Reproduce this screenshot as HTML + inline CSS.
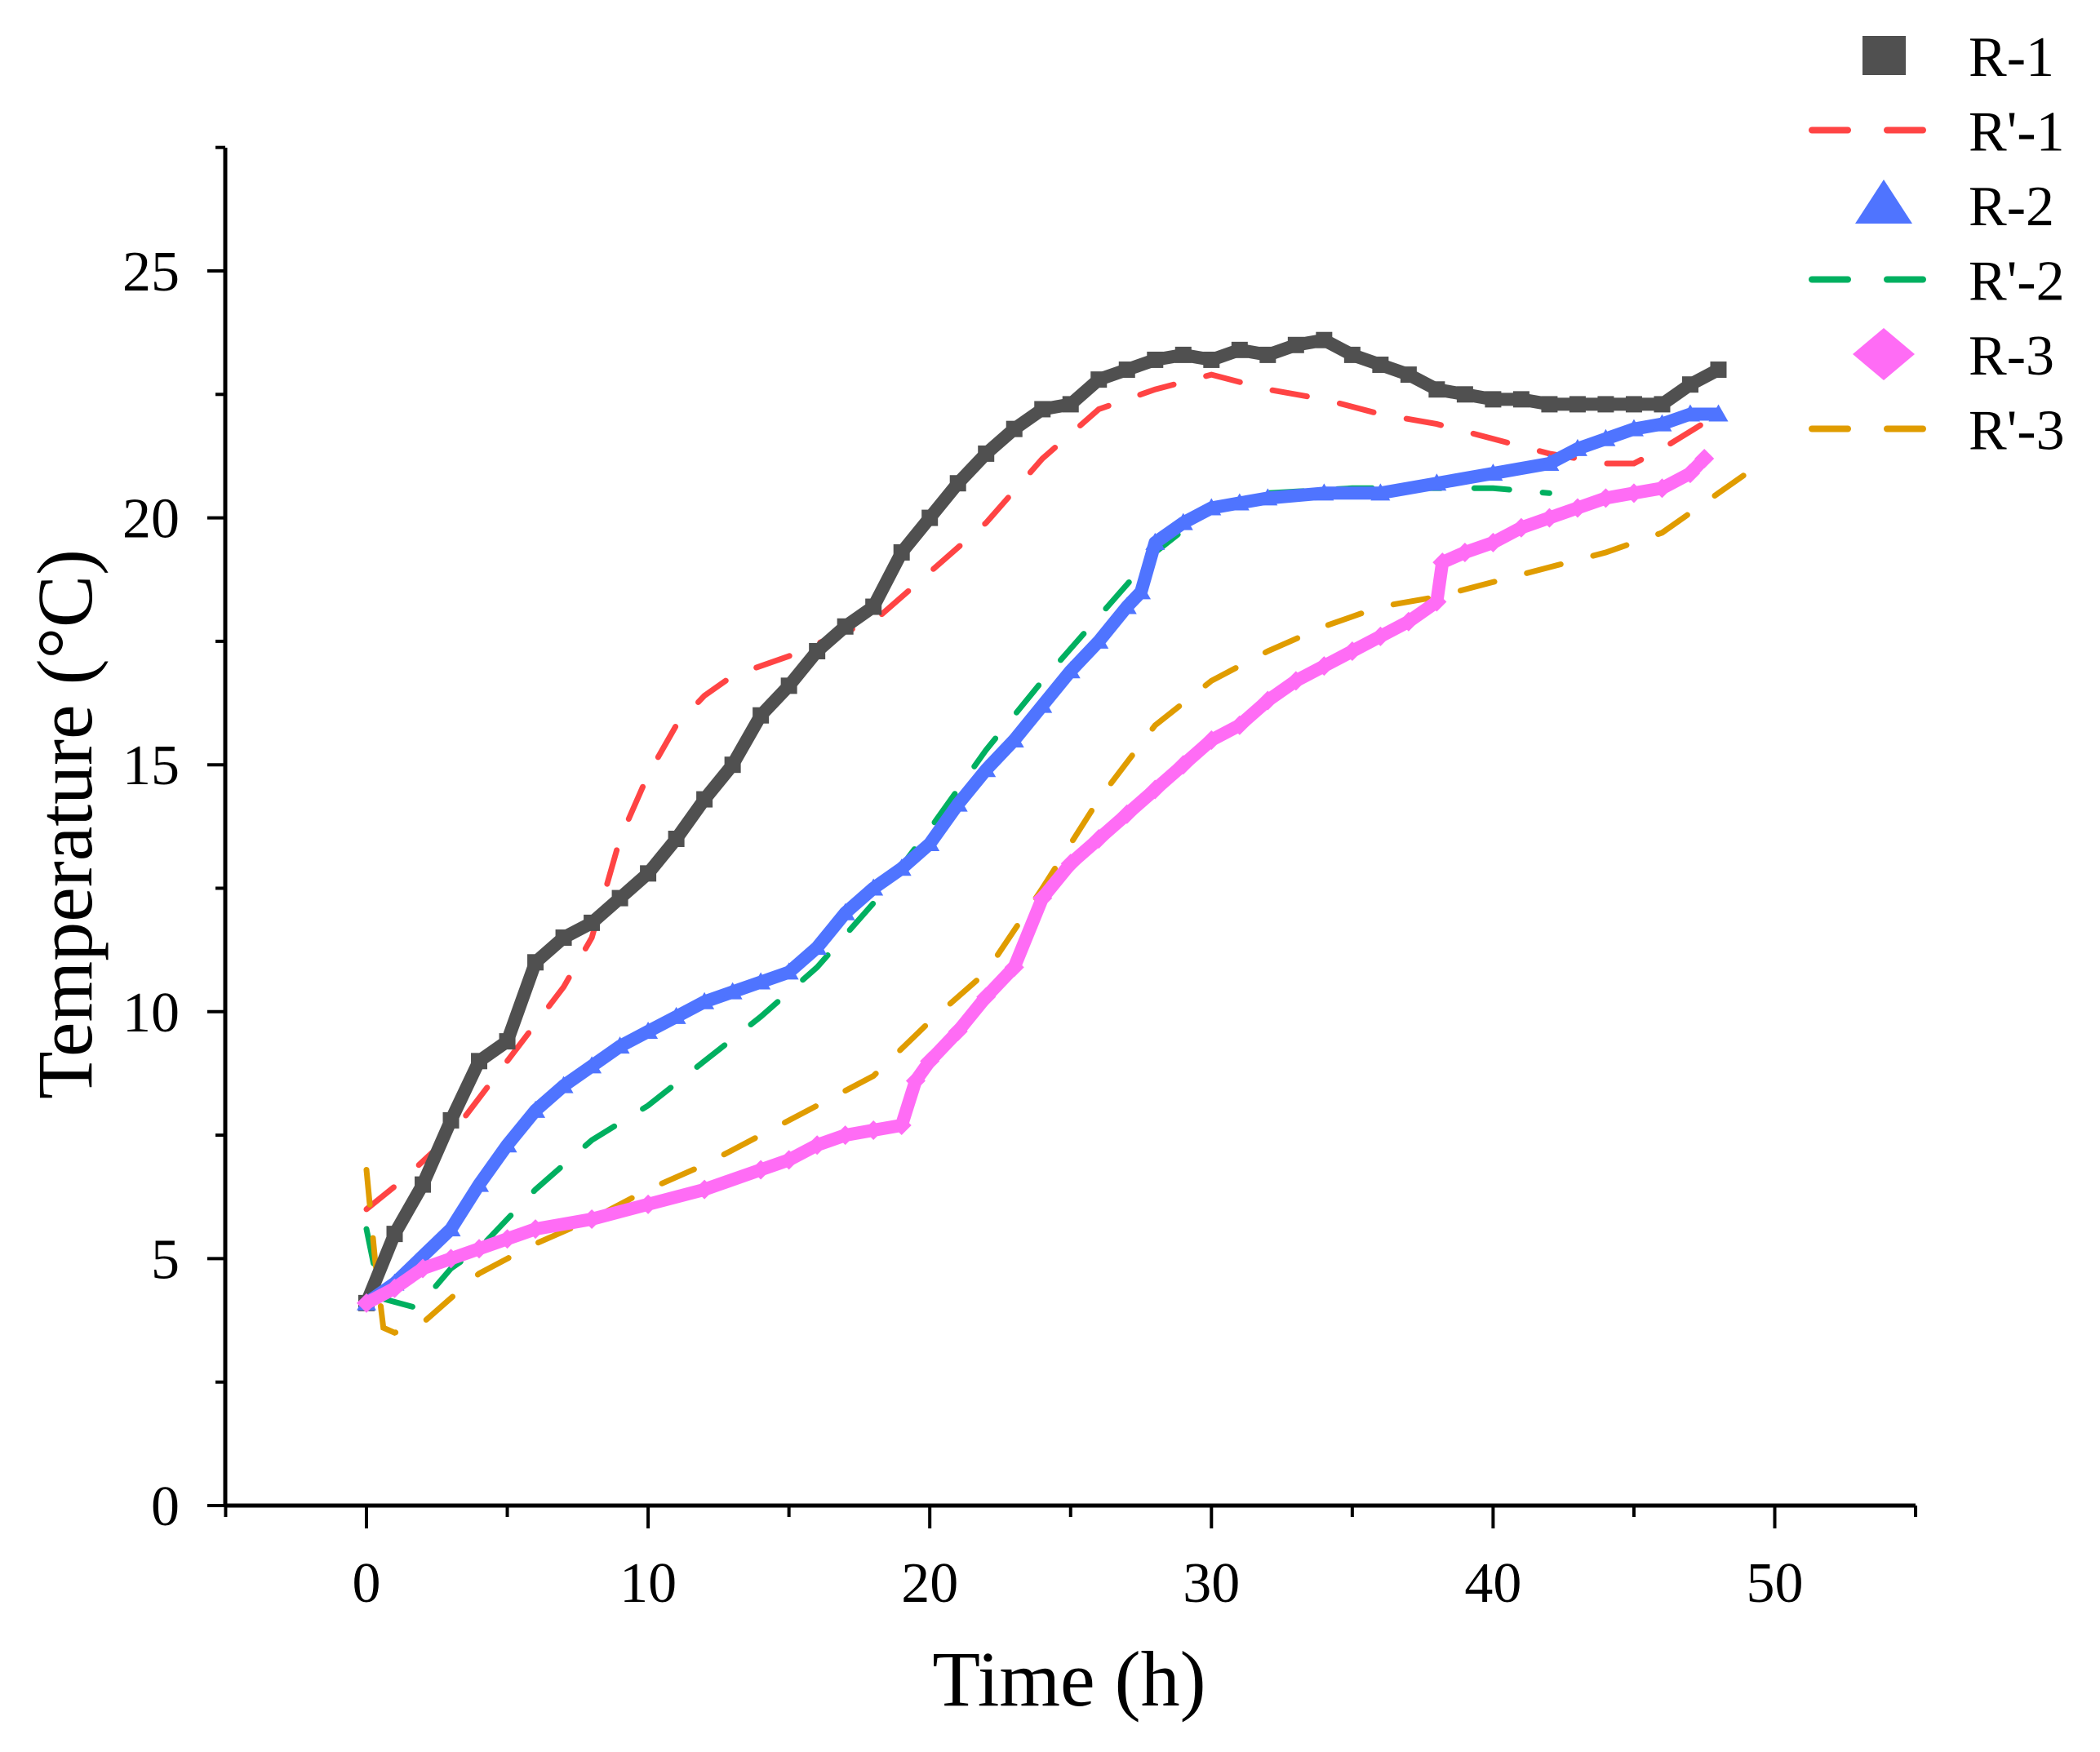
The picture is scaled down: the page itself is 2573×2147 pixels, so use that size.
<!DOCTYPE html>
<html><head><meta charset="utf-8"><style>
html,body{margin:0;padding:0;background:#fff}
svg{display:block}
text{font-family:"Liberation Serif",serif;fill:#000}
</style></head><body>
<svg id="chart" width="2573" height="2147" viewBox="0 0 2573 2147" xmlns="http://www.w3.org/2000/svg">
<g id="axes"></g>
<g id="series"></g>
<g id="legend"></g>
<text x="1310" y="2090" font-size="96" text-anchor="middle">Time (h)</text>
<text transform="translate(112,1010) rotate(-90)" font-size="96" text-anchor="middle">Temperature (°C)</text>
</svg>
<script>
const xTicks=[0,10,20,30,40,50];
const yTicks=[0,5,10,15,20,25];
const r1T=[0,1,2,3,4,5,6,7,8,9,10,11,12,13,14,15,16,17,18,19,20,21,22,23,24,25,26,27,28,29,30,31,32,33,34,35,36,37,38,39,40,41,42,43,44,45,46,47,48];
const r1V=[4.1,5.5,6.5,7.8,9.0,9.4,11.0,11.5,11.8,12.3,12.8,13.5,14.3,15.0,16.0,16.6,17.3,17.8,18.2,19.3,20.0,20.7,21.3,21.8,22.2,22.3,22.8,23.0,23.2,23.3,23.2,23.4,23.3,23.5,23.6,23.3,23.1,22.9,22.6,22.5,22.4,22.4,22.3,22.3,22.3,22.3,22.3,22.7,23.0];
const rp1T=[0,1.3,3,5,7,8,9,10,11,12,13,15,17,18,20,22,24,26,28,30,32,34,36,38,40,42,44,45,46,48];
const rp1V=[6.0,6.6,7.5,9.0,10.5,11.5,13.5,14.8,15.8,16.4,16.8,17.2,17.7,17.9,18.9,19.9,21.2,22.2,22.6,22.9,22.6,22.4,22.1,21.9,21.6,21.3,21.1,21.1,21.4,22.1];
const r2T=[0,1,3,4,5,6,7,8,9,10,11,12,13,14,15,16,17,18,19,20,21,22,23,24,25,26,27,27.5,28,29,30,31,32,34,36,38,40,42,43,44,45,46,47,48];
const r2V=[4.1,4.5,5.6,6.5,7.3,8.0,8.5,8.9,9.3,9.6,9.9,10.2,10.4,10.6,10.8,11.3,12.0,12.5,12.9,13.4,14.2,14.9,15.5,16.2,16.9,17.5,18.2,18.5,19.5,19.9,20.2,20.3,20.4,20.5,20.5,20.7,20.9,21.1,21.4,21.6,21.8,21.9,22.1,22.1];
const rp2T=[0,0.5,1.8,3,4,5,6,8,10,12,14,16,18,20,22,24,26,28,30,32,35,38,40,42];
const rp2V=[5.6,4.2,4.0,4.8,5.2,5.8,6.4,7.4,8.1,9.0,9.9,10.9,12.2,13.7,15.3,16.7,18.0,19.3,20.2,20.5,20.6,20.6,20.6,20.5];
const r3T=[0,1,2,3,4,5,6,8,10,12,14,15,16,17,18,19,19.5,20,21,22,23,24,25,26,27,28,29,30,31,32,33,34,35,36,37,38,38.2,39,40,41,42,43,44,45,46,47,47.5];
const r3V=[4.1,4.4,4.8,5.0,5.2,5.4,5.6,5.8,6.1,6.4,6.8,7.0,7.3,7.5,7.6,7.7,8.6,9.0,9.6,10.3,10.9,12.3,13.0,13.5,14.0,14.5,15.0,15.5,15.8,16.3,16.7,17.0,17.3,17.6,17.9,18.3,19.1,19.3,19.5,19.8,20.0,20.2,20.4,20.5,20.6,20.9,21.2];
const rp3T=[0,0.3,0.6,1,2,3,4,6,8,10,12,14,16,18,20,22,24,26,28,30,32,34,36,38,40,42,44,46,48,49];
const rp3V=[6.8,5.0,3.6,3.5,3.7,4.2,4.7,5.3,5.8,6.4,6.9,7.5,8.1,8.7,9.8,10.8,12.5,14.3,15.8,16.7,17.3,17.8,18.2,18.4,18.7,19.0,19.3,19.7,20.5,20.9];

const NS='http://www.w3.org/2000/svg';
const X=v=>449+v*34.51;
const Y=v=>1845-v*60.52;
function mk(tag,parent,attrs){const e=document.createElementNS(NS,tag);for(const k in attrs)e.setAttribute(k,attrs[k]);parent.appendChild(e);return e;}
const axes=document.getElementById('axes');
let e;
e=mk('line',axes,{x1:276,y1:1845,x2:2347,y2:1845,stroke:'#000','stroke-width':5});


e=mk('line',axes,{x1:276,y1:181,x2:276,y2:1847,stroke:'#000','stroke-width':5});


for(let v=-5;v<=55;v+=5){
  const major=v%10===0;
  e=mk('line',axes,{x1:X(v),y1:1845,x2:X(v),y2:1845+(major?28:14),stroke:'#000','stroke-width':4});
  
  
}
xTicks.forEach(v=>{
  e=mk('text',axes,{x:X(v),y:1963,'font-size':70,'text-anchor':'middle'});e.textContent=v;
  
  
});
for(let v=0;v<=27.5;v+=2.5){
  const major=v%5===0;
  e=mk('line',axes,{x1:276-(major?22:12),y1:Y(v),x2:276,y2:Y(v),stroke:'#000','stroke-width':4});
  
  
}
yTicks.forEach(v=>{
  e=mk('text',axes,{x:220,y:Y(v)+24,'font-size':70,'text-anchor':'end'});e.textContent=v;
  
  
});
const ser=document.getElementById('series');
function pts(T,V){return T.map((t,i)=>X(t).toFixed(1)+','+Y(V[i]).toFixed(1)).join(' ');}
function dashed(T,V,color,name){
  e=mk('polyline',ser,{points:pts(T,V),fill:'none',stroke:color,'stroke-width':7,'stroke-dasharray':'43 41','stroke-linecap':'round'});
  
  
}
function marker(g,shape,x,y,color,s){
  if(shape==='sq') return mk('rect',g,{x:x-s/2,y:y-s/2,width:s,height:s,fill:color});
  if(shape==='tri') return mk('polygon',g,{points:`${x},${y-s*0.6} ${x-s*0.6},${y+s*0.45} ${x+s*0.6},${y+s*0.45}`,fill:color});
  return mk('polygon',g,{points:`${x},${y-s*0.6} ${x+s*0.6},${y} ${x},${y+s*0.6} ${x-s*0.6},${y}`,fill:color});
}
function scatter(T,V,color,shape,name){
  const g=mk('g',ser,{});
  
  
  mk('polyline',g,{points:pts(T,V),fill:'none',stroke:color,'stroke-width':16,'stroke-linejoin':'round'});
  T.forEach((t,i)=>{const m=marker(g,shape,X(t),Y(V[i]),color,20);
    
    });
}
dashed(rp1T,rp1V,'#ff4444','series-r-prime-1');
dashed(rp2T,rp2V,'#00b060','series-r-prime-2');
dashed(rp3T,rp3V,'#e09c00','series-r-prime-3');
scatter(r1T,r1V,'#505050','sq','series-r-1');
scatter(r2T,r2V,'#4f74ff','tri','series-r-2');
scatter(r3T,r3V,'#ff6cf5','dia','series-r-3');

const leg=document.getElementById('legend');
const items=[['R-1','sq','#505050'],["R'-1",'dash','#ff4444'],['R-2','tri','#4f74ff'],["R'-2",'dash','#00b060'],['R-3','dia','#ff6cf5'],["R'-3",'dash','#e09c00']];
items.forEach((it,i)=>{
  const y=68+i*91.5;
  const g=mk('g',leg,{});
  
  
  if(it[1]==='dash'){
    mk('line',g,{x1:2220,y1:y,x2:2264,y2:y,stroke:it[2],'stroke-width':8,'stroke-linecap':'round'});
    mk('line',g,{x1:2312,y1:y,x2:2356,y2:y,stroke:it[2],'stroke-width':8,'stroke-linecap':'round'});
  } else if(it[1]==='sq'){
    mk('rect',g,{x:2282,y:y-24,width:53,height:48,fill:it[2]});
  } else if(it[1]==='tri'){
    mk('polygon',g,{points:`2308,${y-31} 2273,${y+23} 2343,${y+23}`,fill:it[2]});
  } else {
    mk('polygon',g,{points:`2308,${y-32} 2346,${y} 2308,${y+32} 2270,${y}`,fill:it[2]});
  }
  const t=mk('text',g,{x:2412,y:y+25,'font-size':70});t.textContent=it[0];
});
</script>
</body></html>
